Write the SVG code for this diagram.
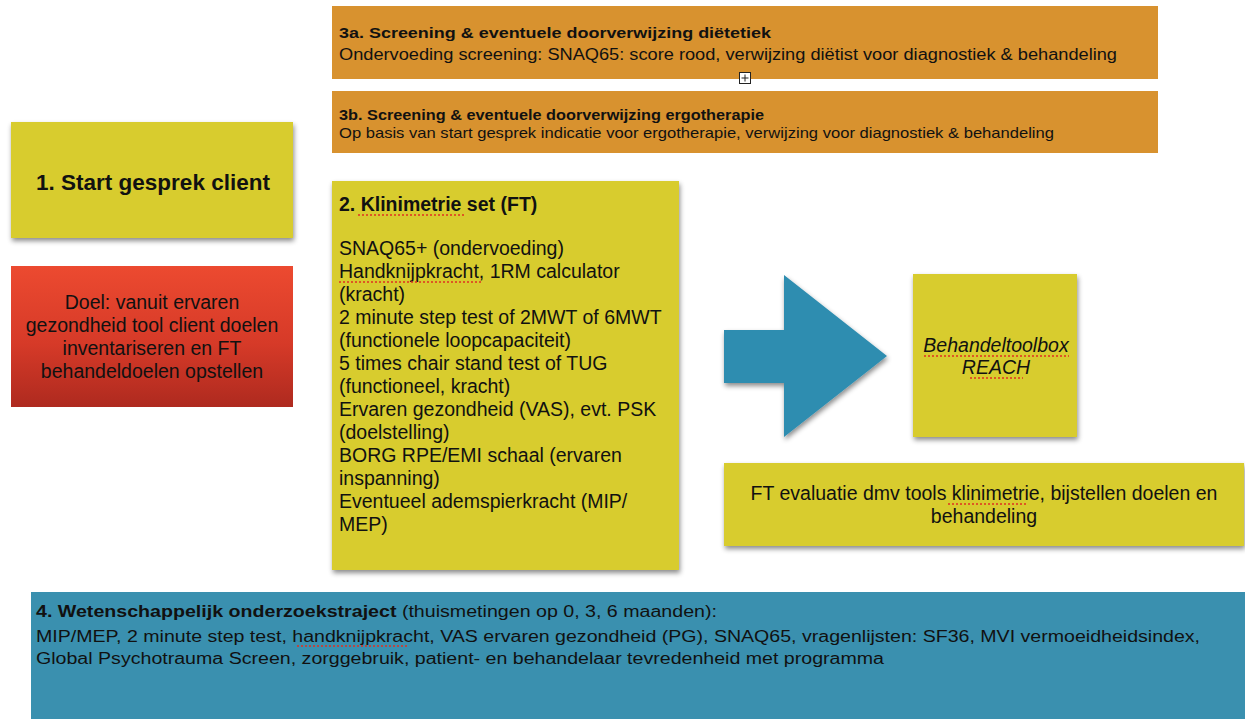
<svg xmlns="http://www.w3.org/2000/svg" width="1245" height="719" viewBox="0 0 1245 719">
<style>
text{font-family:"Liberation Sans",Arial,sans-serif;fill:#111}
.yel{fill:#D8CC2E}
.org{fill:#D8922F}
.blue{fill:#3A90AF}
.b{font-weight:bold}
.sp{stroke:#e03020;stroke-width:1.3;stroke-dasharray:2 2;fill:none}
</style>
<defs>
<filter id="sh" x="-10%" y="-10%" width="125%" height="130%">
<feDropShadow dx="1" dy="3" stdDeviation="2.5" flood-color="#000" flood-opacity="0.45"/>
</filter>
<linearGradient id="red" x1="0" y1="0" x2="0" y2="1">
<stop offset="0" stop-color="#EC4A30"/>
<stop offset="0.55" stop-color="#D63A28"/>
<stop offset="1" stop-color="#AE2A1F"/>
</linearGradient>
</defs>
<rect width="1245" height="719" fill="#fff"/>
<g id="node-3a">
<rect class="org" x="332" y="6" width="826" height="73"/>
<text class="b" x="339" y="38" font-size="15" textLength="432" lengthAdjust="spacingAndGlyphs">3a. Screening &amp; eventuele doorverwijzing diëtetiek</text>
<text x="339" y="60" font-size="16" textLength="778" lengthAdjust="spacingAndGlyphs">Ondervoeding screening: SNAQ65: score rood, verwijzing diëtist voor diagnostiek &amp; behandeling</text>
</g>
<g id="icon">
<rect x="739.5" y="72.5" width="11" height="11" fill="#fff" stroke="#222" stroke-width="1"/>
<path d="M745 74.5v7M741.5 78h7" stroke="#222" stroke-width="1"/>
</g>
<g id="node-3b">
<rect class="org" x="332" y="91" width="826" height="62"/>
<text class="b" x="339" y="120" font-size="14.5" textLength="425" lengthAdjust="spacingAndGlyphs">3b. Screening &amp; eventuele doorverwijzing ergotherapie</text>
<text x="339" y="138" font-size="15" textLength="715" lengthAdjust="spacingAndGlyphs">Op basis van start gesprek indicatie voor ergotherapie, verwijzing voor diagnostiek &amp; behandeling</text>
</g>
<g id="node-1">
<rect class="yel" x="11" y="122" width="282" height="116" filter="url(#sh)"/>
<text class="b" x="153" y="190" font-size="22.5" text-anchor="middle">1. Start gesprek client</text>
</g>
<g id="node-doel">
<rect x="11" y="266" width="282" height="141" fill="url(#red)"/>
<g font-size="19.5" text-anchor="middle">
<text x="152" y="309">Doel: vanuit ervaren</text>
<text x="152" y="332">gezondheid tool client doelen</text>
<text x="152" y="355">inventariseren en FT</text>
<text x="152" y="378">behandeldoelen opstellen</text>
</g>
</g>
<g id="node-2">
<rect class="yel" x="332" y="181" width="347" height="389" filter="url(#sh)"/>
<text class="b" x="339" y="211" font-size="19.5">2. Klinimetrie set (FT)</text>
<path class="sp" d="M358 215h107"/>
<g font-size="19.5">
<text x="339" y="255">SNAQ65+ (ondervoeding)</text>
<text x="339" y="278">Handknijpkracht, 1RM calculator</text>
<text x="339" y="301">(kracht)</text>
<text x="339" y="324">2 minute step test of 2MWT of 6MWT</text>
<text x="339" y="347">(functionele loopcapaciteit)</text>
<text x="339" y="370">5 times chair stand test of TUG</text>
<text x="339" y="393">(functioneel, kracht)</text>
<text x="339" y="416">Ervaren gezondheid (VAS), evt. PSK</text>
<text x="339" y="439">(doelstelling)</text>
<text x="339" y="462">BORG RPE/EMI schaal (ervaren</text>
<text x="339" y="485">inspanning)</text>
<text x="339" y="508">Eventueel ademspierkracht (MIP/</text>
<text x="339" y="531">MEP)</text>
</g>
<path class="sp" d="M339 282h144"/>
</g>
<g id="connectors">
<path d="M724 330H784V275L887 356L784 437V383H724Z" fill="#2E8DB0" filter="url(#sh)"/>
</g>
<g id="node-toolbox">
<rect class="yel" x="913" y="274" width="164" height="163" filter="url(#sh)"/>
<g font-size="19.5" font-style="italic" text-anchor="middle">
<text x="996" y="352">Behandeltoolbox</text>
<text x="996" y="374">REACH</text>
</g>
<path class="sp" d="M924 356h145M970 378h53"/>
</g>
<g id="node-eval">
<rect class="yel" x="724" y="463" width="520" height="83" filter="url(#sh)"/>
<g font-size="19.5" text-anchor="middle">
<text x="984" y="500">FT evaluatie dmv tools klinimetrie, bijstellen doelen en</text>
<text x="984" y="523">behandeling</text>
</g>
<path class="sp" d="M948 504h78"/>
</g>
<g id="node-4">
<rect class="blue" x="31" y="592" width="1214" height="127"/>
<text x="36" y="617" font-size="16" textLength="681" lengthAdjust="spacingAndGlyphs"><tspan class="b">4. Wetenschappelijk onderzoekstraject</tspan> (thuismetingen op 0, 3, 6 maanden):</text>
<text x="36" y="642" font-size="16" textLength="1164" lengthAdjust="spacingAndGlyphs">MIP/MEP, 2 minute step test, handknijpkracht, VAS ervaren gezondheid (PG), SNAQ65, vragenlijsten: SF36, MVI vermoeidheidsindex,</text>
<text x="36" y="664" font-size="16" textLength="848" lengthAdjust="spacingAndGlyphs">Global Psychotrauma Screen, zorggebruik, patient- en behandelaar tevredenheid met programma</text>
<path class="sp" d="M297 646h112"/>
</g>
</svg>
